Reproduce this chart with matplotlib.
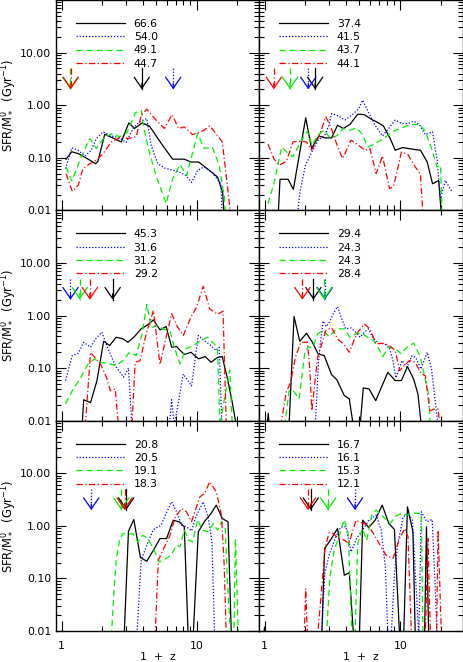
import numpy as np
import matplotlib
matplotlib.use('Agg')
import matplotlib.pyplot as plt
from matplotlib.ticker import FixedLocator, FixedFormatter, LogLocator, NullFormatter

# ---- panel a (top left) ----
a_black_z = [1.08, 1.19, 1.33, 1.62, 1.79, 1.86, 2.09, 2.77, 3.15, 3.47, 3.95, 4.48, 5.62, 6.65, 8.11, 9.08, 10.35, 12.4, 14.3, 15.6, 16.0]
a_black_s = [0.094, 0.13, 0.12, 0.09, 0.077, 0.086, 0.28, 0.2, 0.46, 0.36, 0.46, 0.40, 0.17, 0.094, 0.094, 0.083, 0.083, 0.058, 0.043, 0.022, 0.008]
a_blue_z = [1.07, 1.19, 1.33, 1.49, 1.66, 1.81, 2.03, 2.34, 2.69, 3.01, 3.41, 3.78, 4.28, 4.61, 5.16, 5.78, 6.65, 7.45, 8.33, 9.18, 10.2, 11.4, 13.1, 15.1, 15.5]
a_blue_s = [0.062, 0.154, 0.139, 0.108, 0.139, 0.232, 0.31, 0.26, 0.239, 0.195, 0.37, 0.48, 0.557, 0.173, 0.077, 0.064, 0.058, 0.054, 0.046, 0.034, 0.058, 0.067, 0.052, 0.032, 0.008]
a_green_z = [1.08, 1.19, 1.40, 1.62, 1.81, 2.09, 2.40, 2.69, 3.05, 3.53, 3.89, 4.05, 4.43, 5.01, 5.95, 6.65, 7.54, 8.43, 10.2, 11.4, 13.1, 14.7, 16.0, 16.4]
a_green_s = [0.067, 0.036, 0.104, 0.232, 0.15, 0.25, 0.289, 0.25, 0.30, 0.72, 0.80, 0.386, 0.139, 0.046, 0.0134, 0.040, 0.074, 0.046, 0.289, 0.15, 0.16, 0.072, 0.019, 0.008]
a_red_z = [1.08, 1.20, 1.33, 1.44, 1.62, 1.81, 2.03, 2.34, 2.77, 3.10, 3.57, 3.89, 4.28, 5.01, 5.78, 6.59, 7.36, 8.11, 9.34, 10.35, 11.4, 12.5, 13.9, 15.5, 16.9, 17.9]
a_red_s = [0.05, 0.023, 0.030, 0.062, 0.077, 0.09, 0.12, 0.2, 0.25, 0.232, 0.25, 0.645, 0.84, 0.52, 0.36, 0.66, 0.36, 0.386, 0.276, 0.30, 0.334, 0.404, 0.289, 0.2, 0.030, 0.008]
a_labels = ['66.6', '54.0', '49.1', '44.7']
a_arrows = [3.93, 6.72, 1.16, 1.17]   # black, blue, green, red

# ---- panel b (top right) ----
b_black_z = [1.26, 1.30, 1.49, 1.63, 2.01, 2.22, 2.51, 2.78, 3.12, 3.45, 3.80, 4.26, 4.86, 5.44, 6.17, 6.84, 7.51, 8.43, 9.18, 10.4, 11.5, 12.9, 14.1, 15.8, 17.3, 19.2, 20.1]
b_black_s = [0.008, 0.039, 0.039, 0.025, 0.574, 0.15, 0.26, 0.239, 0.239, 0.416, 0.36, 0.43, 0.675, 0.66, 0.533, 0.468, 0.404, 0.232, 0.139, 0.156, 0.15, 0.143, 0.139, 0.083, 0.032, 0.037, 0.008]
b_blue_z = [1.75, 1.82, 2.0, 2.22, 2.48, 2.78, 2.98, 3.12, 3.49, 3.91, 4.43, 4.92, 5.28, 5.89, 6.52, 7.4, 8.28, 9.18, 10.3, 11.4, 12.55, 13.8, 15.3, 17.3, 18.7, 19.8, 21.5, 24.2]
b_blue_s = [0.008, 0.022, 0.072, 0.125, 0.216, 0.268, 0.416, 0.693, 0.626, 0.52, 0.66, 0.84, 1.245, 0.693, 0.416, 0.26, 0.37, 0.52, 0.448, 0.448, 0.496, 0.43, 0.276, 0.31, 0.09, 0.0167, 0.037, 0.022]
b_green_z = [1.06, 1.17, 1.34, 1.47, 1.62, 1.87, 2.07, 2.24, 2.48, 2.75, 3.03, 3.39, 3.8, 4.26, 4.77, 5.26, 5.76, 6.52, 7.67, 8.67, 10.0, 11.2, 12.55, 13.8, 15.3, 17.0, 18.7, 19.8, 20.3]
b_green_s = [0.0134, 0.032, 0.16, 0.125, 0.104, 0.216, 0.32, 0.173, 0.276, 0.334, 0.239, 0.26, 0.36, 0.334, 0.37, 0.276, 0.16, 0.186, 0.239, 0.31, 0.36, 0.404, 0.43, 0.43, 0.32, 0.15, 0.067, 0.072, 0.008]
b_red_z = [1.06, 1.17, 1.28, 1.45, 1.62, 1.82, 2.04, 2.22, 2.51, 2.83, 3.08, 3.39, 3.76, 4.34, 4.92, 5.5, 5.98, 6.64, 7.4, 8.33, 8.92, 10.2, 11.4, 12.9, 14.1, 14.7]
b_red_s = [0.181, 0.096, 0.072, 0.086, 0.2, 0.206, 0.2, 0.139, 0.25, 0.6, 0.386, 0.186, 0.096, 0.216, 0.173, 0.139, 0.15, 0.05, 0.108, 0.026, 0.028, 0.129, 0.115, 0.067, 0.048, 0.008]
b_labels = ['37.4', '41.5', '43.7', '44.1']
b_arrows = [2.36, 2.10, 1.54, 1.17]

# ---- panel c (middle left) ----
c_black_z = [1.42, 1.46, 1.64, 1.83, 2.05, 2.27, 2.54, 2.85, 3.10, 3.47, 3.89, 4.35, 4.79, 5.36, 5.95, 6.54, 7.11, 8.11, 9.08, 10.35, 11.6, 12.8, 14.3, 15.5, 16.9, 18.4, 19.7]
c_black_s = [0.008, 0.025, 0.022, 0.058, 0.324, 0.268, 0.386, 0.36, 0.31, 0.398, 0.557, 0.664, 0.826, 0.533, 0.617, 0.25, 0.257, 0.181, 0.2, 0.15, 0.165, 0.129, 0.16, 0.165, 0.065, 0.022, 0.008]
c_blue_z = [1.07, 1.20, 1.33, 1.46, 1.64, 1.79, 1.99, 2.21, 2.5, 2.88, 3.13, 3.32, 6.29, 6.54, 6.84, 7.97, 9.18, 10.3, 11.4, 12.8, 13.9, 14.7, 15.4]
c_blue_s = [0.058, 0.173, 0.192, 0.31, 0.25, 0.36, 0.482, 0.232, 0.112, 0.067, 0.1, 0.008, 0.008, 0.025, 0.008, 0.077, 0.046, 0.416, 0.334, 0.268, 0.216, 0.25, 0.008]
c_green_z = [1.07, 1.20, 1.38, 1.59, 1.76, 1.92, 2.15, 2.54, 2.85, 3.19, 3.57, 3.95, 4.28, 4.61, 5.07, 5.62, 6.36, 6.84, 7.54, 8.33, 9.34, 10.9, 12.0, 13.5, 14.3, 14.9, 16.0, 17.6, 18.4]
c_green_s = [0.021, 0.037, 0.065, 0.124, 0.15, 0.129, 0.124, 0.112, 0.139, 0.2, 0.173, 0.448, 1.62, 0.582, 0.645, 0.557, 0.503, 0.25, 0.12, 0.232, 0.268, 0.334, 0.386, 0.289, 0.232, 0.008, 0.024, 0.092, 0.008]
c_red_z = [1.50, 1.64, 1.76, 1.94, 2.15, 2.30, 2.50, 2.64, 3.32, 3.51, 3.82, 4.23, 4.79, 5.36, 5.95, 6.54, 7.24, 7.97, 9.08, 10.0, 11.2, 12.5, 14.3, 15.7, 16.6]
c_red_s = [0.008, 0.2, 0.16, 0.12, 0.067, 0.037, 0.04, 0.008, 0.008, 0.129, 0.139, 0.448, 1.245, 0.117, 0.386, 1.08, 0.6, 0.416, 0.93, 1.44, 3.6, 1.34, 1.05, 1.21, 0.008]
c_labels = ['45.3', '31.6', '31.2', '29.2']
c_arrows = [2.39, 1.165, 1.365, 1.62]

# ---- panel d (middle right) ----
d_black_z = [1.046, 1.064, 1.083, 1.515, 1.649, 1.816, 2.04, 2.25, 2.48, 2.75, 3.12, 3.41, 3.87, 4.21, 4.51, 5.06, 5.34, 5.89, 6.6, 7.3, 8.1, 9.18, 10.2, 11.3, 12.55, 13.5, 14.3]
d_black_s = [0.008, 0.0138, 0.008, 0.008, 0.957, 0.324, 0.46, 0.31, 0.186, 0.173, 0.075, 0.06, 0.030, 0.026, 0.008, 0.008, 0.042, 0.040, 0.024, 0.0445, 0.083, 0.058, 0.058, 0.107, 0.062, 0.032, 0.008]
d_blue_z = [2.36, 2.51, 2.7, 2.86, 3.03, 3.21, 3.45, 3.7, 3.96, 4.34, 4.69, 5.06, 5.44, 5.82, 6.35, 6.99, 7.67, 8.28, 8.77, 9.28, 10.3, 11.2, 12.2, 13.0, 14.2, 15.8, 17.0, 18.0, 19.0]
d_blue_s = [0.008, 0.16, 0.78, 0.617, 0.78, 1.08, 1.48, 0.865, 0.557, 0.58, 0.482, 0.386, 0.482, 0.557, 0.36, 0.297, 0.289, 0.25, 0.15, 0.065, 0.139, 0.104, 0.173, 0.16, 0.096, 0.2, 0.096, 0.027, 0.008]
d_green_z = [1.407, 1.515, 1.62, 1.796, 1.98, 2.09, 2.28, 2.46, 2.7, 2.98, 3.39, 3.87, 4.26, 4.69, 5.2, 5.82, 6.35, 6.84, 7.43, 8.2, 9.18, 10.2, 11.2, 12.55, 14.1, 15.1, 16.2, 16.6]
d_green_s = [0.008, 0.037, 0.038, 0.026, 0.2, 0.25, 0.25, 0.448, 0.52, 0.398, 0.557, 0.557, 0.386, 0.448, 0.46, 0.376, 0.334, 0.25, 0.166, 0.25, 0.232, 0.186, 0.25, 0.297, 0.16, 0.069, 0.032, 0.008]
d_red_z = [1.314, 1.447, 1.557, 1.688, 1.848, 2.07, 2.15, 2.23, 2.46, 2.83, 3.12, 3.45, 3.8, 4.21, 4.77, 5.44, 5.98, 6.64, 7.51, 8.33, 9.18, 9.89, 10.9, 11.7, 12.9, 14.3, 15.3, 16.5, 18.0, 19.0, 19.6]
d_red_s = [0.008, 0.035, 0.054, 0.16, 0.31, 0.31, 0.104, 0.0155, 0.16, 0.52, 0.582, 0.36, 0.289, 0.2, 0.448, 0.693, 0.557, 0.289, 0.297, 0.268, 0.216, 0.09, 0.117, 0.139, 0.129, 0.077, 0.072, 0.0155, 0.0167, 0.0167, 0.008]
d_labels = ['29.4', '24.3', '24.3', '28.4']
d_arrows = [2.29, 2.78, 2.75, 1.90]

# ---- panel e (bottom left) ----
e_black_z = [2.91, 3.13, 3.43, 3.84, 4.28, 4.79, 5.36, 6.0, 6.72, 7.45, 8.11, 8.67, 9.44, 10.3, 11.4, 12.8, 14.0, 15.5, 17.1, 18.1]
e_black_s = [0.008, 0.79, 1.32, 0.25, 0.212, 0.344, 0.574, 0.574, 1.28, 1.19, 0.957, 0.008, 0.008, 0.77, 1.19, 1.72, 2.48, 1.38, 1.19, 0.008]
e_blue_z = [3.61, 3.89, 4.28, 4.79, 5.46, 5.95, 6.54, 7.11, 7.76, 8.43, 9.18, 9.89, 11.2, 12.2, 13.0, 13.6]
e_blue_s = [0.008, 0.222, 0.43, 0.852, 1.03, 1.72, 2.86, 1.85, 1.03, 0.957, 0.80, 1.48, 2.86, 1.48, 0.496, 0.008]
e_green_z = [2.34, 2.43, 2.54, 2.69, 2.85, 3.10, 3.37, 3.67, 4.0, 4.35, 4.79, 5.3, 5.95, 6.47, 7.11, 7.54, 8.11, 8.76, 9.34, 10.2, 11.0, 12.2, 13.3, 14.3, 15.3, 16.3, 16.9, 17.9, 18.9, 19.4, 20.4]
e_green_s = [0.008, 0.0445, 0.222, 0.55, 0.715, 0.69, 0.715, 0.496, 0.664, 0.574, 0.37, 0.206, 0.239, 0.276, 0.43, 0.4, 0.826, 0.533, 0.496, 1.32, 0.826, 0.77, 1.11, 0.826, 1.2, 0.89, 0.092, 0.008, 0.008, 0.574, 0.008]
e_red_z = [4.93, 5.21, 5.78, 6.36, 6.96, 7.76, 8.43, 9.18, 9.89, 10.6, 11.5, 12.5, 14.0, 15.3, 16.0, 16.6]
e_red_s = [0.008, 0.222, 0.398, 0.664, 1.48, 2.14, 1.85, 1.2, 2.14, 3.57, 4.13, 6.89, 4.45, 1.6, 0.19, 0.008]
e_labels = ['20.8', '20.5', '19.1', '18.3']
e_arrows = [3.01, 1.66, 2.77, 2.93]

# ---- panel f (bottom right) ----
f_black_z = [0.983, 1.0, 1.017, 2.64, 2.77, 3.08, 3.45, 3.87, 4.21, 4.53, 5.0, 5.29, 5.85, 6.53, 7.36, 8.24, 9.06, 9.89, 10.6, 11.3, 12.4, 12.9, 15.1, 15.6, 16.2]
f_black_s = [0.008, 0.0119, 0.008, 0.008, 0.37, 0.55, 0.89, 0.115, 0.129, 0.008, 0.008, 1.28, 0.93, 1.28, 2.48, 1.11, 0.852, 0.008, 0.008, 2.3, 0.77, 0.008, 0.008, 0.957, 0.008]
f_blue_z = [2.63, 2.78, 2.99, 3.33, 3.66, 3.98, 4.34, 4.77, 5.26, 5.89, 6.64, 7.24, 7.76, 8.11, 8.58, 9.06, 9.6, 10.5, 11.4, 12.3, 13.0, 13.7, 14.3, 15.7, 17.2, 18.0, 18.7]
f_blue_s = [0.008, 0.124, 0.276, 0.6, 0.957, 0.957, 0.32, 0.574, 0.826, 1.28, 1.6, 0.826, 0.166, 0.008, 0.008, 0.124, 0.46, 1.48, 1.72, 1.28, 0.092, 0.008, 1.85, 1.2, 1.32, 0.092, 0.008]
f_green_z = [2.86, 3.03, 3.26, 3.53, 3.87, 4.14, 4.41, 4.64, 4.86, 5.26, 5.66, 6.17, 6.64, 7.24, 7.76, 8.43, 9.28, 10.2, 11.2, 12.3, 13.5, 14.3, 14.7]
f_green_s = [0.008, 0.107, 0.344, 0.617, 1.32, 0.715, 0.008, 0.008, 0.46, 0.89, 0.533, 1.6, 1.99, 1.6, 1.38, 1.11, 1.54, 1.72, 1.6, 1.76, 1.72, 1.72, 0.008]
f_red_z = [1.96, 2.01, 2.07, 2.46, 2.63, 2.78, 2.98, 3.21, 3.49, 3.87, 4.18, 4.72, 5.2, 5.76, 6.35, 6.99, 7.86, 8.83, 9.89, 10.8, 11.4, 12.1, 15.3, 16.0, 16.7, 18.5, 19.0, 20.1]
f_red_s = [0.008, 0.064, 0.008, 0.008, 0.06, 0.344, 0.737, 0.715, 0.574, 0.536, 0.46, 1.28, 1.14, 1.03, 0.715, 0.46, 0.276, 0.239, 0.574, 0.89, 0.617, 0.008, 0.008, 0.574, 0.008, 0.008, 0.826, 0.008]
f_labels = ['16.7', '16.1', '15.3', '12.1']
f_arrows = [2.19, 4.64, 2.94, 2.09]

colors = ['black', '#0000ff', '#00ee00', '#ff0000']
styles = ['-', (0, (1, 1.5)), (0, (5, 3)), (0, (5, 2, 1, 2))]

panels = [
    ([(a_black_z, a_black_s), (a_blue_z, a_blue_s), (a_green_z, a_green_s), (a_red_z, a_red_s)], a_labels, a_arrows),
    ([(b_black_z, b_black_s), (b_blue_z, b_blue_s), (b_green_z, b_green_s), (b_red_z, b_red_s)], b_labels, b_arrows),
    ([(c_black_z, c_black_s), (c_blue_z, c_blue_s), (c_green_z, c_green_s), (c_red_z, c_red_s)], c_labels, c_arrows),
    ([(d_black_z, d_black_s), (d_blue_z, d_blue_s), (d_green_z, d_green_s), (d_red_z, d_red_s)], d_labels, d_arrows),
    ([(e_black_z, e_black_s), (e_blue_z, e_blue_s), (e_green_z, e_green_s), (e_red_z, e_red_s)], e_labels, e_arrows),
    ([(f_black_z, f_black_s), (f_blue_z, f_blue_s), (f_green_z, f_green_s), (f_red_z, f_red_s)], f_labels, f_arrows),
]

plt.rcParams['font.family'] = 'DejaVu Sans'
plt.rcParams['font.size'] = 7.8

fig = plt.figure(figsize=(4.64, 6.62), dpi=100)

left_x, right_x = 56 / 464, 259 / 464
w_left, w_right = 203 / 464, 204 / 464
row_h = 0.9532 / 3
bottoms = [0.0468 + 2 * row_h, 0.0468 + row_h, 0.0468]

for k, (series, labels, arrows) in enumerate(panels):
    row, col = k // 2, k % 2
    pos = [left_x if col == 0 else right_x, bottoms[row], w_left if col == 0 else w_right, row_h]
    ax = fig.add_axes(pos)
    ax.set_xscale('log')
    ax.set_yscale('log')
    ax.set_xlim(0.91, 29)
    ax.set_ylim(0.01, 100)

    for (z, s), c, ls, lab in zip(series, colors, styles, labels):
        ax.plot(z, s, color=c, ls=ls, lw=0.9, label=lab)

    for xa, c, ls in zip(arrows, colors, styles):
        ax.plot([xa, xa], [5.0, 2.0], color=c, ls=ls, lw=0.9)
        ax.annotate('', xy=(xa, 2.0), xytext=(xa, 2.6),
                    arrowprops=dict(arrowstyle='->,head_length=0.8,head_width=0.55',
                                    color=c, lw=0.9, shrinkA=0, shrinkB=0, mutation_scale=10))

    ax.legend(loc='upper left', bbox_to_anchor=(0.1, 0.91), frameon=False,
              handlelength=4.5, handletextpad=0.8, labelspacing=0.3,
              borderpad=0, borderaxespad=0, fontsize=7.8)

    ax.xaxis.set_major_locator(FixedLocator([1, 10]))
    ax.xaxis.set_minor_locator(LogLocator(base=10, subs=np.arange(2, 10), numticks=20))
    ax.xaxis.set_minor_formatter(NullFormatter())
    ax.yaxis.set_major_locator(FixedLocator([0.01, 0.1, 1, 10]))
    ax.yaxis.set_minor_locator(LogLocator(base=10, subs=np.arange(2, 10), numticks=20))
    ax.yaxis.set_minor_formatter(NullFormatter())

    if row == 2:
        ax.xaxis.set_major_formatter(FixedFormatter(['1', '10']))
        ax.set_xlabel('1  +  z')
        ax.xaxis.set_label_coords(0.5, -0.1)
    else:
        ax.xaxis.set_major_formatter(NullFormatter())
    if col == 0:
        ax.yaxis.set_major_formatter(FixedFormatter(['0.01', '0.10', '1.00', '10.00']))
        ax.set_ylabel(r'SFR/M$_*^0$  (Gyr$^{-1}$)', fontsize=8.3)
        ax.yaxis.set_label_coords(-0.18, 0.5)
    else:
        ax.yaxis.set_major_formatter(NullFormatter())

    ax.tick_params(which='both', direction='in', top=True, right=True, width=0.8)
    ax.tick_params(which='major', length=7)
    ax.tick_params(which='minor', length=3.5)
    ax.tick_params(axis='x', which='major', pad=7)
    for sp in ax.spines.values():
        sp.set_linewidth(1.0)

fig.savefig('out.png', dpi=100)
